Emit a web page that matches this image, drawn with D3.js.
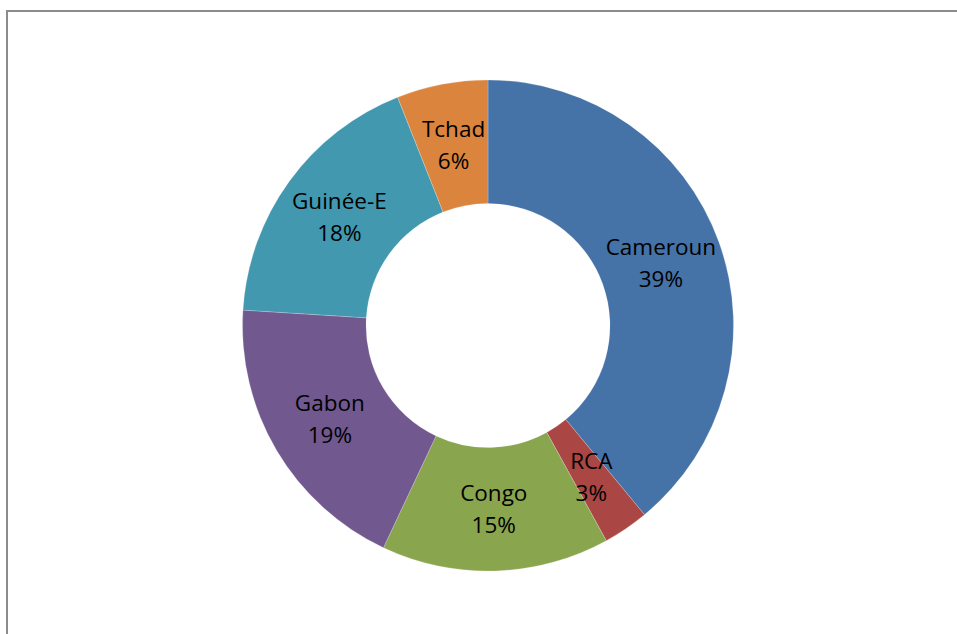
<!doctype html>
<html lang="fr">
<head>
  <meta charset="UTF-8">
  <title>Donut - pays</title>
  <script src="https://cdnjs.cloudflare.com/ajax/libs/d3/7.8.5/d3.min.js"></script>
  <style>
  body { margin: 0; background: #fff; }
  svg { display: block; }
  </style>
</head>
<body>
<script>

var pays = ["Cameroun", "RCA", "Congo", "Gabon", "Guinée-E", "Tchad"];
var parts = [39, 3, 15, 19, 18, 6];
var couleurs = ["#4572a7", "#aa4643", "#89a54e", "#71588f", "#4198af", "#db843d"];

var w = 957;
var h = 634;
var cx = 488, cy = 325.5;
var rOut = 245.5, rIn = 122;

var svg = d3.select('body')
  .append('svg')
  .attr('width', w)
  .attr('height', h);

// cadre gris (coupé à droite et en bas)
svg.append('rect')
  .attr('x', 7)
  .attr('y', 11)
  .attr('width', 980)
  .attr('height', 660)
  .attr('fill', 'none')
  .attr('stroke', '#8c8c8c')
  .attr('stroke-width', 2);

var pie = d3.pie().sort(null).value(function(d) { return d; });
var arcs = pie(parts);
var arc = d3.arc().innerRadius(rIn).outerRadius(rOut);

var g = svg.append('g').attr('transform', 'translate(' + cx + ',' + cy + ')');

g.selectAll('path')
  .data(arcs)
  .enter()
  .append('path')
  .attr('d', arc)
  .attr('fill', function(d, i) { return couleurs[i]; })
  .attr('stroke', 'rgba(255,255,255,0.35)')
  .attr('stroke-width', 0.6);

var lab = g.selectAll('text')
  .data(arcs)
  .enter()
  .append('text')
  .attr('transform', function(d) { return 'translate(' + arc.centroid(d) + ')'; })
  .attr('text-anchor', 'middle')
  .attr('font-family', "'Open Sans', sans-serif")
  .attr('font-size', '22.5px')
  .attr('fill', '#000');

lab.append('tspan')
  .attr('x', 0)
  .attr('y', -8)
  .text(function(d, i) { return pays[i]; });

lab.append('tspan')
  .attr('x', 0)
  .attr('y', 24)
  .text(function(d) { return d.data + '%'; });

</script>
</body>
</html>
